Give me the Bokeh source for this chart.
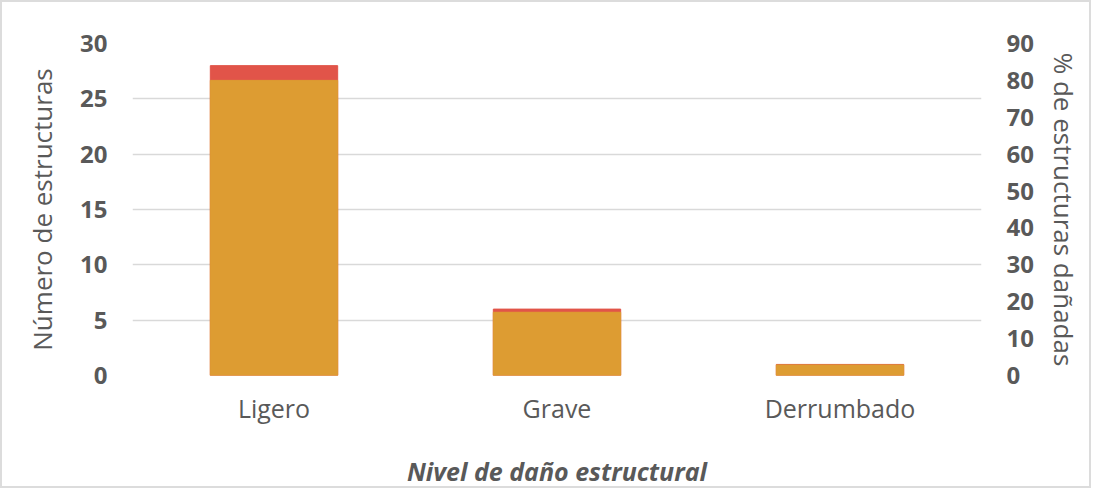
from bokeh.plotting import figure
from bokeh.models import Range1d, LinearAxis, ColumnDataSource, FixedTicker
from bokeh.embed import file_html
from bokeh.resources import INLINE

categories = ["Ligero", "Grave", "Derrumbado"]
counts = [28, 6, 1]
percents = [80.0, 17.14, 2.86]

left_ticks = [0, 5, 10, 15, 20, 25, 30]
right_ticks = [0, 10, 20, 30, 40, 50, 60, 70, 80, 90]

src = ColumnDataSource(dict(cat=categories, count=counts, pct=percents))

FONT = "Open Sans"
GREY = "#595959"

p = figure(x_range=categories, y_range=Range1d(0, 30), width=1091, height=488,
           output_backend="svg", toolbar_location=None,
           min_border_left=130, min_border_right=112, min_border_top=41, min_border_bottom=90)
p.extra_y_ranges = {"pct": Range1d(0, 90)}

p.vbar(x="cat", top="count", width=0.45, source=src, color="#E15449")
p.vbar(x="cat", top="pct", width=0.45, source=src, color="#DD9C32", y_range_name="pct")

p.outline_line_color = None
p.styles = {"border": "2px solid #dcdcdc"}
p.xgrid.grid_line_color = None
p.ygrid.grid_line_color = "#d9d9d9"
p.ygrid.grid_line_width = 1.5
p.ygrid.ticker = FixedTicker(ticks=left_ticks)

# left axis
ya = p.yaxis[0]
ya.ticker = FixedTicker(ticks=left_ticks)
ya.axis_line_color = None
ya.major_tick_line_color = None
ya.minor_tick_line_color = None
ya.major_label_standoff = 19
ya.major_label_text_font = FONT
ya.major_label_text_font_style = "bold"
ya.major_label_text_font_size = "24px"
ya.major_label_text_color = GREY
ya.axis_label = "Número de estructuras"
ya.axis_label_text_font = FONT
ya.axis_label_text_font_style = "normal"
ya.axis_label_text_font_size = "26px"
ya.axis_label_text_color = GREY
ya.axis_label_standoff = 17

# right axis
ra = LinearAxis(y_range_name="pct", ticker=FixedTicker(ticks=right_ticks))
ra.axis_line_color = None
ra.major_tick_line_color = None
ra.minor_tick_line_color = None
ra.major_label_standoff = 19
ra.major_label_text_font = FONT
ra.major_label_text_font_style = "bold"
ra.major_label_text_font_size = "24px"
ra.major_label_text_color = GREY
ra.axis_label = "% de estructuras dañadas"
ra.axis_label_text_font = FONT
ra.axis_label_text_font_style = "normal"
ra.axis_label_text_font_size = "26px"
ra.axis_label_text_color = GREY
ra.axis_label_standoff = 9
p.add_layout(ra, "right")

# x axis
xa = p.xaxis[0]
xa.axis_line_color = None
xa.major_tick_line_color = None
xa.major_label_standoff = 9
xa.major_label_text_font = FONT
xa.major_label_text_font_size = "25px"
xa.major_label_text_color = GREY
xa.axis_label = "Nivel de daño estructural"
xa.axis_label_text_font = FONT
xa.axis_label_text_font_style = "bold italic"
xa.axis_label_text_font_size = "25px"
xa.axis_label_text_color = GREY
xa.axis_label_standoff = 26

open("out.html", "w").write(file_html(p, INLINE))
